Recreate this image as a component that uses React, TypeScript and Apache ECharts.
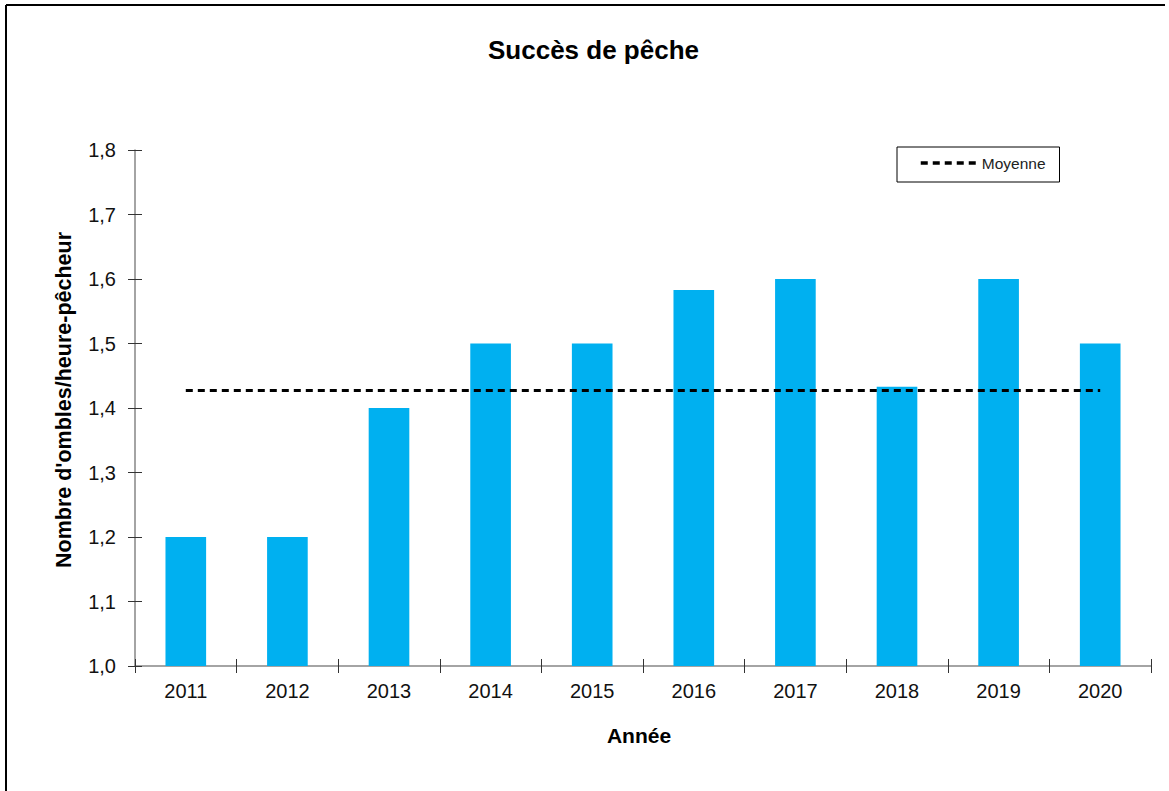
import React, { useEffect, useRef } from "react";
import * as echarts from "echarts";

const years = ["2011", "2012", "2013", "2014", "2015", "2016", "2017", "2018", "2019", "2020"];
const success = [1.2, 1.2, 1.4, 1.5, 1.5, 1.583, 1.6, 1.433, 1.6, 1.5];
const meanValue = 1.427;
const meanLine = years.map(() => meanValue);

const fmt = (v: number) => v.toFixed(1).replace(".", ",");
const FONT = "Liberation Sans, Arial, sans-serif";

export default function App() {
  const ref = useRef<HTMLDivElement>(null);
  useEffect(() => {
    if (!ref.current) return;
    const chart = echarts.init(ref.current, null, { renderer: "svg" });
    const axisGray = "#868686";
    chart.setOption({
      animation: false,
      backgroundColor: "#ffffff",
      textStyle: { fontFamily: FONT },
      title: {
        text: "Succès de pêche",
        left: 483,
        top: 32,
        textStyle: { fontSize: 26, fontWeight: "bold", color: "#000", fontFamily: FONT },
      },
      legend: {
        left: 897,
        top: 147,
        orient: "horizontal",
        itemWidth: 58,
        itemHeight: 12,
        itemGap: 0,
        padding: [8, 14, 11, 22],
        borderColor: "#000",
        borderWidth: 1,
        data: ["Moyenne"],
        itemStyle: { opacity: 0 },
        lineStyle: { width: 3.5 },
        textStyle: { fontSize: 15.5, color: "#222", padding: [0, 0, 0, -2], fontFamily: FONT },
      },
      graphic: [
        { type: "line", shape: { x1: 6, y1: 5, x2: 1165, y2: 5 }, style: { stroke: "#000", lineWidth: 2 } },
        { type: "line", shape: { x1: 6, y1: 5, x2: 6, y2: 791 }, style: { stroke: "#000", lineWidth: 2 } },
      ],
      grid: { left: 135, right: 18, top: 150, bottom: 125, outerBoundsMode: "none" },
      xAxis: [
        {
          type: "category",
          data: years,
          name: "Année",
          nameLocation: "middle",
          nameGap: 59,
          nameTextStyle: { fontSize: 21, fontWeight: "bold", color: "#000", fontFamily: FONT, padding: [0, 8, 0, 0] },
          axisLine: { lineStyle: { color: axisGray, width: 1.5 } },
          axisTick: { show: true, length: 7, alignWithLabel: false, lineStyle: { color: "#333" } },
          axisLabel: { fontSize: 20, color: "#111", margin: 15, fontFamily: FONT },
        },
        {
          type: "category",
          data: years,
          position: "bottom",
          axisLine: { show: false },
          axisTick: { show: true, inside: true, length: 7, lineStyle: { color: "#333" } },
          axisLabel: { show: false },
        },
      ],
      yAxis: [
        {
          type: "value",
          min: 1.0,
          max: 1.8,
          interval: 0.1,
          name: "Nombre d'ombles/heure-pêcheur",
          nameLocation: "middle",
          nameGap: 60,
          nameTextStyle: { fontSize: 21.5, fontWeight: "bold", color: "#000", fontFamily: FONT, padding: [0, 0, 0, 16] },
          splitLine: { show: false },
          axisLine: { show: true, lineStyle: { color: axisGray, width: 1.5 } },
          axisTick: { show: true, length: 7, lineStyle: { color: "#333" } },
          axisLabel: { fontSize: 20, color: "#111", margin: 19, formatter: (v: number) => fmt(v), fontFamily: FONT },
        },
        {
          type: "value",
          min: 1.0,
          max: 1.8,
          interval: 0.1,
          position: "left",
          splitLine: { show: false },
          axisLine: { show: false },
          axisTick: { show: true, inside: true, length: 7, lineStyle: { color: "#333" } },
          axisLabel: { show: false },
        },
      ],
      series: [
        {
          name: "Succès",
          type: "bar",
          data: success,
          barWidth: "40%",
          itemStyle: { color: "#00B0F0" },
        },
        {
          name: "Moyenne",
          type: "line",
          data: meanLine,
          symbol: "none",
          lineStyle: { color: "#000", width: 3, type: [7, 5] },
          itemStyle: { color: "#000" },
          z: 5,
        },
      ],
    });
    return () => chart.dispose();
  }, []);
  return <div ref={ref} style={{ position: "fixed", left: 0, top: 0, width: 1169, height: 791 }} />;
}
